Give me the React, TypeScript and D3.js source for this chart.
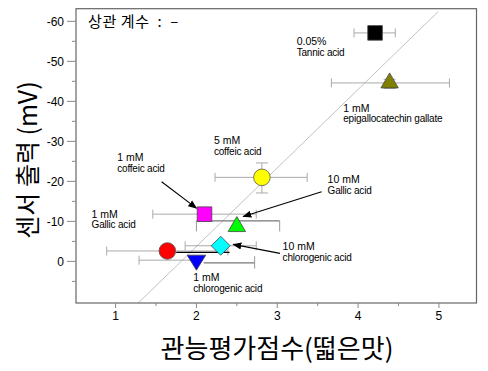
import * as d3 from 'd3';

// sensory score (x) vs sensor output (y, mV)
const compounds = ['Tannic acid', 'EGCG', '5 mM coffeic', '1 mM coffeic', '10 mM gallic', '10 mM chlorogenic', '1 mM gallic', '1 mM chlorogenic'];
const scoreX = [4.21, 4.39, 2.81, 2.1, 2.5, 2.3, 1.64, 2.0];
const sensorY = [-57.1, -44.6, -21.0, -11.8, -8.7, -3.9, -2.6, -0.3];
const xErrLo = [3.95, 3.67, 2.23, 1.46, NaN, 1.86, 0.89, 1.29];
const xErrHi = [4.46, 5.13, 3.37, 2.74, NaN, 2.74, 2.39, 2.0];
const yErrLo = [NaN, -45.5, -24.6, NaN, NaN, NaN, NaN, NaN];
const yErrHi = [NaN, -43.2, -17.1, NaN, NaN, NaN, NaN, NaN];
const shapes = ['square', 'triangle', 'circle', 'square', 'triangle', 'diamond', 'circle', 'triangleDown'];
const colors = ['#000000', '#808000', '#ffff00', '#ff00ff', '#00ff00', '#00ffff', '#ff0000', '#0000ff'];

// darker error arms drawn on top
const armFrom = [1.75, 2.0, 2.09];
const armTo = [2.41, 3.03, 2.72];
const armY = [-2.25, -10.1, 0.35];
const armCapLo = [NaN, -10.1, -1.3];
const armCapHi = [NaN, -7.5, 1.8];
const armCapAt = [[], [2.0, 3.03], [2.72]];
const armColors = ['#000000', '#777777', '#777777'];

// diagonal reference line
const refLineX = [1.28, 4.99];
const refLineY = [10.4, -62.4];

// annotations: x, baseline of line 1, baseline of line 2
const noteLine1 = ['0.05%', '1 mM', '5 mM', '1 mM', '1 mM', '10 mM', '10 mM', '1 mM'];
const noteLine2 = ['Tannic acid', 'epigallocatechin gallate', 'coffeic acid', 'coffeic acid', 'Gallic acid', 'Gallic acid', 'chlorogenic acid', 'chlorogenic acid'];
const noteX = [3.24, 3.816, 2.216, 1.02, 0.703, 3.623, 3.066, 1.96];
const noteY1 = [-54.1, -37.4, -29.25, -25.15, -10.95, -19.5, -2.8, 4.9];
const noteY2 = [-51.4, -34.9, -26.7, -22.4, -8.3, -16.8, -0.15, 7.6];

// arrows [x1, y1, x2, y2]
const arrows = [
  [1.569, -19.9, 2.0, -13.3],
  [3.549, -17.4, 2.579, -11.2],
  [3.033, -2.0, 2.455, -4.25],
];

const xTicks = [1, 2, 3, 4, 5];
const xMinor = [1.5, 2.5, 3.5, 4.5];
const yTicks = [-60, -50, -40, -30, -20, -10, 0];
const yMinor = [-55, -45, -35, -25, -15, -5, 5];

const W = 488;
const H = 371;
const plot = { left: 76, right: 476.5, top: 8.7, bottom: 303 };
const latin = '"Liberation Sans", Arial, sans-serif';
const korean = '"Noto Sans CJK KR", "Noto Sans", sans-serif';

const x = d3.scaleLinear().domain([0.51, 5.465]).range([plot.left, plot.right]);
const y = d3.scaleLinear().domain([-63.15, 10.4]).range([plot.top, plot.bottom]);

const marker = (shape: string, cx: number, cy: number) => {
  const s = 7.3;
  if (shape === 'square') return `M${cx - s},${cy - s}H${cx + s}V${cy + s}H${cx - s}Z`;
  if (shape === 'diamond') return `M${cx},${cy - 9.5}L${cx + 9.5},${cy}L${cx},${cy + 9.5}L${cx - 9.5},${cy}Z`;
  if (shape === 'triangle') return `M${cx},${cy - 10}L${cx + 8.7},${cy + 5}L${cx - 8.7},${cy + 5}Z`;
  return `M${cx - 9.3},${cy - 5}L${cx + 9.3},${cy - 5}L${cx},${cy + 10}Z`;
};

const App = () => {
  const cap = 4.5;
  const errColor = '#aaaaaa';

  return (
    <svg width={W} height={H} style={{ position: 'absolute', left: 0, top: 0, background: '#fff' }}>
      {/* reference line */}
      <line
        x1={x(refLineX[0])}
        y1={y(refLineY[0])}
        x2={x(refLineX[1])}
        y2={y(refLineY[1])}
        stroke="#bbbbbb"
        strokeWidth={0.9}
      />

      {/* error bars */}
      {scoreX.map((d, i) => (
        <g key={`e${i}`} stroke={errColor} strokeWidth={1}>
          {!isNaN(xErrLo[i]) && (
            <>
              <line x1={x(xErrLo[i])} x2={x(xErrHi[i])} y1={y(sensorY[i])} y2={y(sensorY[i])} />
              <line x1={x(xErrLo[i])} x2={x(xErrLo[i])} y1={y(sensorY[i]) - cap} y2={y(sensorY[i]) + cap} />
              <line x1={x(xErrHi[i])} x2={x(xErrHi[i])} y1={y(sensorY[i]) - cap} y2={y(sensorY[i]) + cap} />
            </>
          )}
          {!isNaN(yErrLo[i]) && (
            <>
              <line x1={x(d)} x2={x(d)} y1={y(yErrLo[i])} y2={y(yErrHi[i])} />
              <line x1={x(d) - 6} x2={x(d) + 6} y1={y(yErrLo[i])} y2={y(yErrLo[i])} />
              <line x1={x(d) - 6} x2={x(d) + 6} y1={y(yErrHi[i])} y2={y(yErrHi[i])} />
            </>
          )}
        </g>
      ))}

      {armFrom.map((f, i) => (
        <g key={`a${i}`} stroke={armColors[i]} strokeWidth={1.3}>
          <line x1={x(f)} x2={x(armTo[i])} y1={y(armY[i])} y2={y(armY[i])} />
          {armCapAt[i].map((c, j) => (
            <line key={j} x1={x(c)} x2={x(c)} y1={y(armCapLo[i])} y2={y(armCapHi[i])} strokeWidth={1} stroke="#999" />
          ))}
        </g>
      ))}

      {/* markers */}
      {scoreX.map((d, i) =>
        shapes[i] === 'circle' ? (
          <circle key={`m${i}`} cx={x(d)} cy={y(sensorY[i])} r={8.3} fill={colors[i]} stroke="#555" strokeWidth={0.8} />
        ) : (
          <path key={`m${i}`} d={marker(shapes[i], x(d), y(sensorY[i]))} fill={colors[i]} stroke="#444" strokeWidth={0.8} />
        )
      )}

      {/* arrows */}
      <defs>
        <marker id="ah" viewBox="0 0 10 10" refX="9" refY="5" markerWidth="9" markerHeight="9" markerUnits="userSpaceOnUse" orient="auto">
          <path d="M0,1L10,5L0,9Z" fill="#000" />
        </marker>
      </defs>
      {arrows.map((a, i) => (
        <line key={`ar${i}`} x1={x(a[0])} y1={y(a[1])} x2={x(a[2])} y2={y(a[3])} stroke="#000" strokeWidth={1.1} markerEnd="url(#ah)" />
      ))}

      {/* annotations */}
      {noteX.map((nx, i) => (
        <g key={`n${i}`} fontFamily={latin} fill="#000">
          <text x={x(nx)} y={y(noteY1[i])} fontSize={10.5}>
            {noteLine1[i]}
          </text>
          <text x={x(nx)} y={y(noteY2[i])} fontSize={10} letterSpacing={-0.2}>
            {noteLine2[i]}
          </text>
        </g>
      ))}

      {/* frame */}
      <rect
        x={plot.left}
        y={plot.top}
        width={plot.right - plot.left}
        height={plot.bottom - plot.top}
        fill="none"
        stroke="#666"
        strokeWidth={1.2}
      />

      {/* y axis */}
      {yTicks.map((t) => (
        <g key={`y${t}`}>
          <line x1={plot.left - 9} x2={plot.left} y1={y(t)} y2={y(t)} stroke="#888" />
          <text x={plot.left - 12} y={y(t)} dy="0.35em" textAnchor="end" fontFamily={latin} fontSize={12}>
            {t}
          </text>
        </g>
      ))}
      {yMinor.map((t) => (
        <line key={`ym${t}`} x1={plot.left - 4} x2={plot.left} y1={y(t)} y2={y(t)} stroke="#888" />
      ))}

      {/* x axis */}
      {xTicks.map((t) => (
        <g key={`x${t}`}>
          <line x1={x(t)} x2={x(t)} y1={plot.bottom} y2={plot.bottom + 5} stroke="#888" />
          <text x={x(t)} y={plot.bottom + 17} textAnchor="middle" fontFamily={latin} fontSize={12}>
            {t}
          </text>
        </g>
      ))}
      {xMinor.map((t) => (
        <line key={`xm${t}`} x1={x(t)} x2={x(t)} y1={plot.bottom} y2={plot.bottom + 3} stroke="#888" />
      ))}

      {/* titles */}
      <text x={88} y={27} fontFamily={korean} fontSize={15} letterSpacing={0.6} fill="#000" style={{ whiteSpace: 'pre' }}>
        {'상관 계수  :  –'}
      </text>
      <text
        transform={`translate(26,160) rotate(-90)`}
        textAnchor="middle"
        dominantBaseline="central"
        fontFamily={korean}
        fontSize={25}
      >
        센서 출력 (mV)
      </text>
      <text x={277} y={346} textAnchor="middle" dominantBaseline="central" fontFamily={korean} fontSize={26}>
        관능평가점수(떫은맛)
      </text>
    </svg>
  );
};

export default App;
